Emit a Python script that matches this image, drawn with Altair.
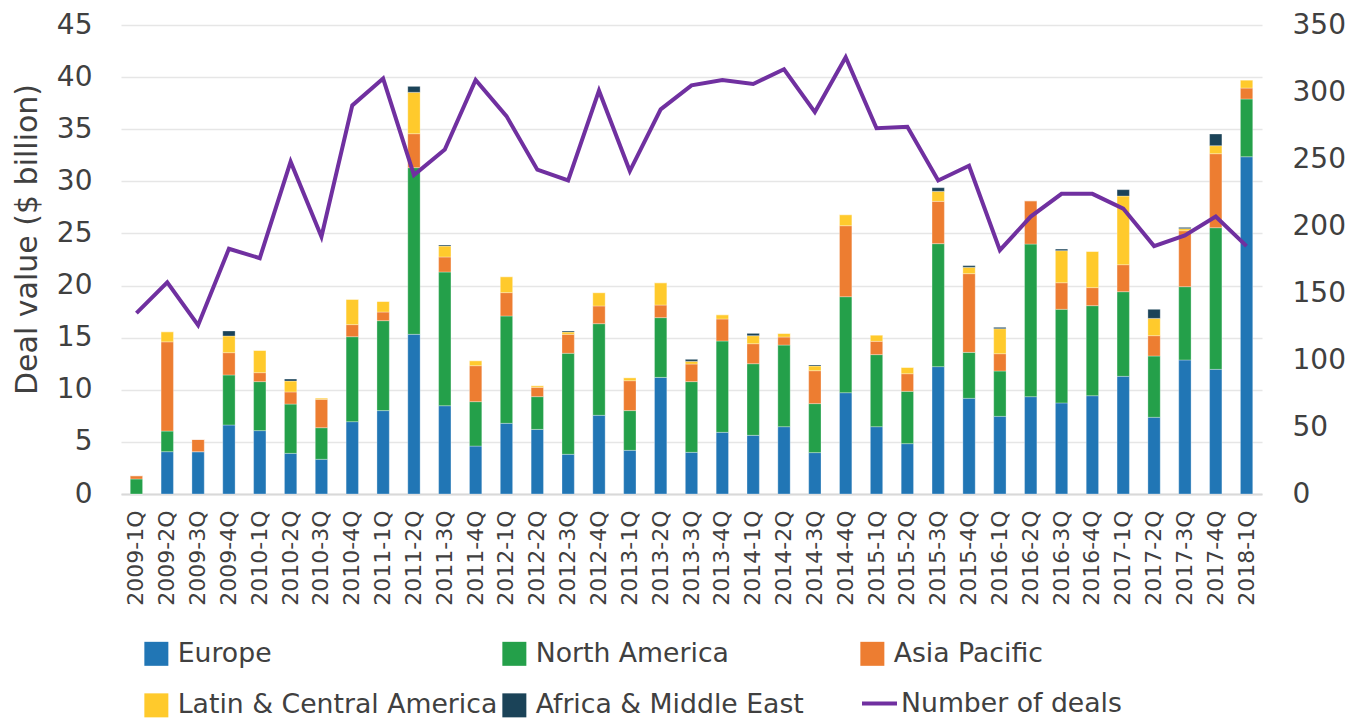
import altair as alt
import pandas as pd

quarters = [
    "2009-1Q", "2009-2Q", "2009-3Q", "2009-4Q", "2010-1Q", "2010-2Q", "2010-3Q", "2010-4Q",
    "2011-1Q", "2011-2Q", "2011-3Q", "2011-4Q", "2012-1Q", "2012-2Q", "2012-3Q", "2012-4Q",
    "2013-1Q", "2013-2Q", "2013-3Q", "2013-4Q", "2014-1Q", "2014-2Q", "2014-3Q", "2014-4Q",
    "2015-1Q", "2015-2Q", "2015-3Q", "2015-4Q", "2016-1Q", "2016-2Q", "2016-3Q", "2016-4Q",
    "2017-1Q", "2017-2Q", "2017-3Q", "2017-4Q", "2018-1Q",
]

regions = ["Europe", "North America", "Asia Pacific", "Latin & Central America", "Africa & Middle East"]
region_colors = ["#2176b5", "#24a04a", "#ed7d31", "#ffca2c", "#1b4358"]

europe = [0.0, 4.06, 4.06, 6.62, 6.08, 3.90, 3.33, 6.94, 8.00, 15.32, 8.47, 4.60, 6.78, 6.20, 3.81, 7.55,
          4.19, 11.19, 4.00, 5.92, 5.63, 6.46, 3.97, 9.72, 6.46, 4.83, 12.22, 9.18, 7.45, 9.34, 8.74, 9.43,
          11.29, 7.36, 12.86, 11.96, 32.36]
north_america = [1.44, 1.98, 0.0, 4.80, 4.70, 4.73, 3.03, 8.15, 8.63, 15.99, 12.83, 4.26, 10.30, 3.14, 9.69, 8.79,
                 3.81, 5.73, 6.78, 8.76, 6.87, 7.83, 4.70, 9.21, 6.91, 5.02, 11.80, 4.41, 4.35, 14.64, 8.98, 8.64,
                 8.12, 5.88, 7.03, 13.59, 5.54]
asia_pacific = [0.32, 8.56, 1.18, 2.14, 0.86, 1.16, 2.72, 1.16, 0.83, 3.26, 1.44, 3.45, 2.24, 0.89, 1.82, 1.70,
                2.87, 1.21, 1.69, 2.11, 1.92, 0.77, 3.16, 6.81, 1.28, 1.69, 4.06, 7.55, 1.66, 4.16, 2.55, 1.73,
                2.59, 1.95, 5.37, 7.10, 1.05]
latin_america = [0.0, 0.97, 0.0, 1.60, 2.14, 1.05, 0.13, 2.43, 1.02, 3.97, 1.05, 0.48, 1.53, 0.16, 0.22, 1.28,
                 0.29, 2.14, 0.26, 0.41, 0.77, 0.35, 0.45, 1.06, 0.60, 0.61, 0.96, 0.61, 2.40, 0.0, 3.08, 3.48,
                 6.59, 1.66, 0.20, 0.77, 0.77]
africa_me = [0.0, 0.0, 0.0, 0.48, 0.0, 0.19, 0.0, 0.0, 0.0, 0.57, 0.10, 0.0, 0.0, 0.0, 0.10, 0.0,
             0.0, 0.0, 0.19, 0.0, 0.22, 0.0, 0.10, 0.0, 0.0, 0.0, 0.35, 0.16, 0.13, 0.0, 0.15, 0.0,
             0.61, 0.87, 0.12, 1.12, 0.0]

deals = [135, 158, 126, 183, 176, 248, 192, 290, 310, 238, 257, 309, 282, 242, 234, 301,
         241, 287, 305, 309, 306, 317, 285, 326, 273, 274, 234, 245, 182, 207, 224, 224,
         213, 185, 193, 207, 185]

series = [europe, north_america, asia_pacific, latin_america, africa_me]

rows = []
for i, q in enumerate(quarters):
    for k, (r, vals) in enumerate(zip(regions, series)):
        rows.append({"quarter": q, "region": r, "value": vals[i], "order": k})
bars_df = pd.DataFrame(rows)
line_df = pd.DataFrame({"quarter": quarters, "deals": deals, "series": ["Number of deals"] * len(quarters)})

FONT = "DejaVu Sans"
TXT = "#404040"

x_enc = alt.X(
    "quarter:N",
    sort=quarters,
    scale=alt.Scale(paddingInner=0.6, paddingOuter=0.3),
    axis=alt.Axis(
        title=None, labelAngle=-90, labelFontSize=22, labelPadding=16, ticks=False,
        domainColor="#d9d9d9", domainWidth=2, labelColor=TXT, labelFont=FONT, grid=False,
    ),
)

bars = alt.Chart(bars_df).mark_bar(stroke="#ffffff", strokeWidth=0.6, strokeOpacity=0.5).encode(
    x=x_enc,
    y=alt.Y(
        "value:Q",
        stack="zero",
        scale=alt.Scale(domain=[0, 45], nice=False),
        axis=alt.Axis(
            title="Deal value ($ billion)", values=list(range(0, 50, 5)), domain=False, ticks=False,
            labelPadding=29, labelFontSize=28, labelFont=FONT, labelColor=TXT,
            titleFont=FONT, titleFontSize=30, titleFontWeight="normal", titleColor=TXT, titlePadding=14,
            titleY=214,
            grid=True, gridColor="#e6e6e6", gridWidth=1.5,
        ),
    ),
    color=alt.Color(
        "region:N",
        sort=regions,
        scale=alt.Scale(domain=regions, range=region_colors),
        legend=alt.Legend(
            title=None, orient="none", legendX=22, legendY=615, direction="horizontal", columns=3,
            gridAlign="all", columnPadding=3, rowPadding=24, symbolType="square", symbolSize=576,
            symbolStrokeWidth=0, labelFontSize=26.7, labelFont=FONT, labelColor=TXT, labelLimit=600,
            labelOffset=8, padding=0,
        ),
    ),
    order=alt.Order("order:Q"),
)

line = alt.Chart(line_df).mark_line(strokeWidth=4).encode(
    x=x_enc,
    y=alt.Y(
        "deals:Q",
        scale=alt.Scale(domain=[0, 350], nice=False),
        axis=alt.Axis(
            title=None, orient="right", values=list(range(0, 400, 50)), domain=False, ticks=False,
            labelPadding=30, labelFontSize=28, labelFont=FONT, labelColor=TXT, grid=False,
        ),
    ),
    stroke=alt.Stroke(
        "series:N",
        scale=alt.Scale(domain=["Number of deals"], range=["#7030a0"]),
        legend=alt.Legend(
            title=None, orient="none", legendX=739, legendY=659, symbolType="stroke", symbolSize=1225,
            symbolStrokeWidth=4, labelFontSize=26.7, labelFont=FONT, labelColor=TXT, labelLimit=600,
            labelOffset=2, padding=0,
        ),
    ),
)

chart = alt.layer(bars, line).resolve_scale(y="independent").properties(
    width=1141,
    height=469,
    autosize=alt.AutoSizeParams(type="none"),
    padding={"left": 113, "top": 17, "right": 94, "bottom": 226},
).configure_view(stroke=None)

chart.save("out.html", embed_options={"renderer": "svg", "actions": False})
